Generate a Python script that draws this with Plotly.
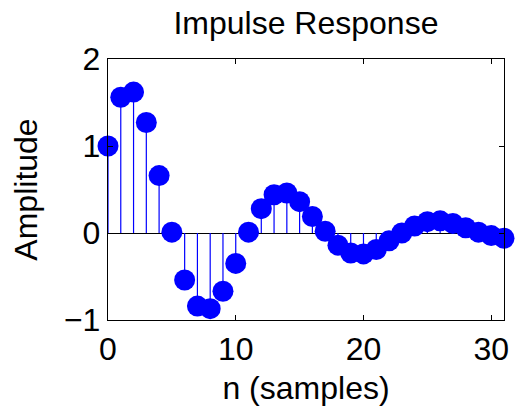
import plotly.graph_objects as go

n = list(range(32))
amp = [1.00, 1.56, 1.62, 1.27, 0.66, 0.01, -0.54, -0.84, -0.87, -0.67, -0.35, 0.01,
       0.28, 0.44, 0.46, 0.36, 0.19, 0.02, -0.14, -0.23, -0.24, -0.19, -0.09, 0.00,
       0.08, 0.13, 0.14, 0.11, 0.06, 0.01, -0.03, -0.06]
x_ticks = [0, 10, 20, 30]
y_ticks = [-1, 0, 1, 2]
y_tick_text = ["\u22121", "0", "1", "2"]

stem_x, stem_y = [], []
for xi, yi in zip(n, amp):
    stem_x += [xi, xi, None]
    stem_y += [0, yi, None]

fig = go.Figure()
fig.add_trace(go.Scatter(x=stem_x, y=stem_y, mode="lines", cliponaxis=False,
                         line=dict(color="#0000FF", width=1.2), hoverinfo="skip"))
fig.add_trace(go.Scatter(x=n, y=amp, mode="markers", cliponaxis=False,
                         marker=dict(color="#0000FF", size=21, line=dict(width=0))))

FAM = "Liberation Sans, Arial, sans-serif"
FS = 32
fig.update_layout(
    width=515, height=412,
    margin=dict(l=108, r=11, t=59, b=92, autoexpand=False),
    paper_bgcolor="white", plot_bgcolor="white",
    showlegend=False,
    font=dict(family=FAM, size=FS, color="black"),
    title=dict(text="Impulse Response", x=0.594, xref="container", xanchor="center",
               y=0.945, yref="container", yanchor="middle",
               font=dict(family=FAM, size=FS, color="black")),
    xaxis=dict(range=[0, 31], tickvals=x_ticks, ticks="inside", ticklen=5, tickcolor="black",
               showline=True, linecolor="black", linewidth=1.4, mirror="ticks",
               showgrid=False, zeroline=False, automargin=False,
               ticklabeloverflow="allow",
               tickfont=dict(family=FAM, size=FS),
               title=dict(text="n (samples)", standoff=11, font=dict(family=FAM, size=FS))),
    yaxis=dict(range=[-1, 2], tickvals=y_ticks, ticktext=y_tick_text, ticks="inside", ticklen=5,
               tickcolor="black", showline=True, linecolor="black", linewidth=1.4, mirror="ticks",
               showgrid=False, zeroline=True, zerolinecolor="black", zerolinewidth=1.3,
               automargin=False, ticklabeloverflow="allow",
               tickfont=dict(family=FAM, size=FS),
               title=dict(text="Amplitude", standoff=16, font=dict(family=FAM, size=FS))),
)
fig.write_html("out.html", config={"displayModeBar": False},
               post_script="document.body.style.margin='0';"
                           "document.body.style.overflow='hidden';"
                           "document.documentElement.style.overflow='hidden';")
